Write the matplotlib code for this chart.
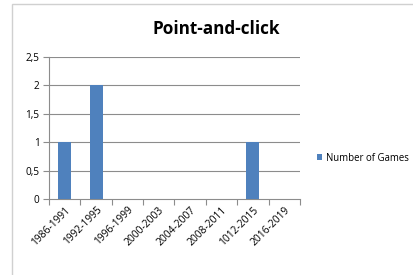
import matplotlib
matplotlib.use("Agg")
import matplotlib.pyplot as plt
from matplotlib.patches import Rectangle

categories = ["1986-1991", "1992-1995", "1996-1999", "2000-2003",
              "2004-2007", "2008-2011", "1012-2015", "2016-2019"]
values = [1, 2, 0, 0, 0, 0, 1, 0]
yticks = [0, 0.5, 1, 1.5, 2, 2.5]
ytick_labels = ["0", "0,5", "1", "1,5", "2", "2,5"]

plt.rcParams['font.family'] = ['Open Sans', 'DejaVu Sans']
fig = plt.figure(figsize=(4.13, 2.75), dpi=100)
ax = fig.add_axes([0.119, 0.276, 0.607, 0.517])

bar_color = "#4F81BD"
x = list(range(len(categories)))
ax.bar(x, values, width=0.42, color=bar_color, zorder=3, label="Number of Games")
ax.set_xlim(-0.5, len(categories) - 0.5)
ax.set_ylim(0, 2.5)
ax.set_yticks(yticks)
ax.set_yticklabels(ytick_labels, fontsize=7.2)
for y in yticks[1:]:
    ax.axhline(y, color="#8c8c8c", lw=0.8, zorder=1)

ax.set_xticks([i - 0.5 for i in range(len(categories) + 1)])
ax.set_xticklabels([])
ax.set_xticks(x, minor=True)
ax.set_xticklabels(categories, minor=True, rotation=45, ha="right",
                   rotation_mode="anchor", fontsize=7.4)
ax.tick_params(axis="x", which="minor", length=0, pad=4)
ax.tick_params(axis="x", which="major", length=4, color="#8c8c8c", direction="out")
ax.tick_params(axis="y", length=4, color="#8c8c8c", direction="out", pad=3)
for s in ["top", "right"]:
    ax.spines[s].set_visible(False)
ax.spines["left"].set_color("#8c8c8c")
ax.spines["bottom"].set_color("#8c8c8c")

fig.text(0.523, 0.895, "Point-and-click", fontsize=12.3, fontweight="bold",
         ha="center", va="center")

leg = fig.legend(loc="center left", bbox_to_anchor=(0.762, 0.425), frameon=False,
                 fontsize=6.9, handlelength=0.6, handleheight=0.6, handletextpad=0.4,
                 borderaxespad=0, borderpad=0.2)

fig.patches.append(Rectangle((12 / 413, -0.1), 1.2, 1.1 - 4 / 275,
                             transform=fig.transFigure, fill=False,
                             edgecolor="#d0d0d0", lw=1))
fig.savefig("out.png", dpi=100)
